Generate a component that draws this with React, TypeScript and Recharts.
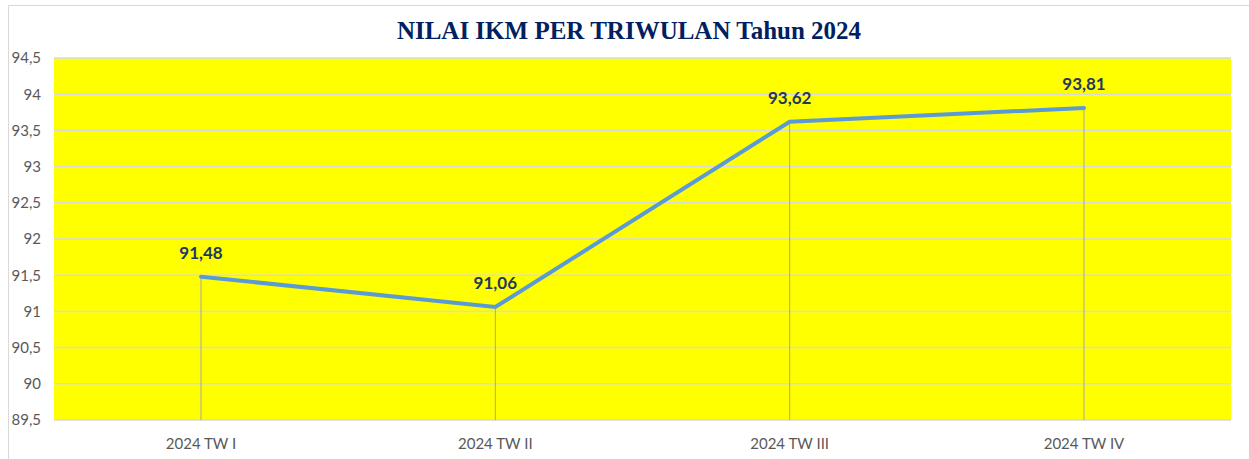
import { LineChart, Line, XAxis, YAxis, CartesianGrid, ReferenceLine, LabelList } from 'recharts'

const quarters = ['2024 TW I', '2024 TW II', '2024 TW III', '2024 TW IV']
const ikmValues = [91.48, 91.06, 93.62, 93.81]
const yTicks = [89.5, 90, 90.5, 91, 91.5, 92, 92.5, 93, 93.5, 94, 94.5]
const chartTitle = 'NILAI IKM PER TRIWULAN Tahun 2024'

const data = quarters.map((q, i) => ({ quarter: q, ikm: ikmValues[i] }))

const fmt = (v: number) => String(v).replace('.', ',')

export default function App() {
  return (
    <div style={{ position: 'absolute', left: 0, top: 0, width: 1249, height: 459, background: '#fff', overflow: 'hidden' }}>
      <div
        style={{
          position: 'absolute',
          left: 8,
          top: 5,
          width: 1260,
          height: 470,
          borderTop: '1px solid #d9d9d9',
          borderLeft: '1px solid #d9d9d9',
        }}
      />
      <div
        style={{
          position: 'absolute',
          top: 17,
          left: 0,
          width: 1258,
          textAlign: 'center',
          fontFamily: '"Liberation Serif", "Times New Roman", serif',
          fontWeight: 700,
          fontSize: 25,
          color: '#002060',
        }}
      >
        {chartTitle}
      </div>
      <LineChart
        width={1249}
        height={459}
        data={data}
        margin={{ top: 58, right: 18, bottom: 9, left: 0 }}
        style={{ position: 'absolute', left: 0, top: 0 }}
      >
        <CartesianGrid vertical={false} stroke="#d9d9d9" strokeWidth={1.5} fill="#ffff00" fillOpacity={1} />
        <XAxis
          dataKey="quarter"
          axisLine={false}
          tickLine={false}
          tickSize={0}
          tickMargin={18}
          height={30}
          padding={{ left: 147, right: 147 }}
          tick={{ fill: '#595959', fontSize: 15, fontFamily: 'Lato, sans-serif' }}
        />
        <YAxis
          type="number"
          domain={[89.5, 94.5]}
          ticks={yTicks}
          interval={0}
          width={54}
          axisLine={false}
          tickLine={false}
          tickSize={0}
          tickMargin={13}
          tickFormatter={fmt}
          tick={{ fill: '#595959', fontSize: 15, fontFamily: 'Lato, sans-serif' }}
        />
        {data.map((d) => (
          <ReferenceLine
            key={d.quarter}
            segment={[
              { x: d.quarter, y: d.ikm },
              { x: d.quarter, y: yTicks[0] },
            ]}
            stroke="#a6a6a6"
            strokeWidth={1}
          />
        ))}
        <Line
          type="linear"
          dataKey="ikm"
          stroke="#5b9bd5"
          strokeWidth={4}
          strokeLinecap="round"
          dot={false}
          activeDot={false}
          isAnimationActive={false}
        >
          <LabelList
            dataKey="ikm"
            position="top"
            offset={18}
            formatter={(v: any) => fmt(Number(v))}
            style={{ fill: '#1f3864', fontSize: 17, fontWeight: 700, fontFamily: 'Lato, sans-serif' }}
          />
        </Line>
      </LineChart>
    </div>
  )
}
